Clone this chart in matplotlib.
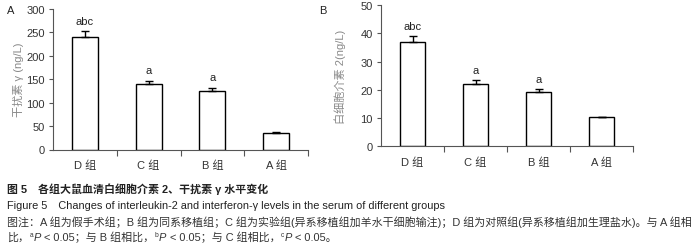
import matplotlib
matplotlib.use("Agg")
import matplotlib.pyplot as plt
from matplotlib.text import Annotation

plt.rcParams['font.family'] = ['Liberation Sans', 'Noto Sans CJK SC', 'DejaVu Sans']

groups = ['D 组', 'C 组', 'B 组', 'A 组']
ifn_means = [239, 140, 124, 35]
ifn_err = [13, 6, 7, 2]
il2_means = [37.0, 21.9, 19.1, 10.2]
il2_err = [2.0, 1.4, 1.0, 0.3]
sig = ['abc', 'a', 'a', '']

fig = plt.figure(figsize=(7.0, 2.51), dpi=100)
axA = fig.add_axes([53/700, 1-150.5/251, 255/700, 141/251])
axB = fig.add_axes([381/700, 1-147.3/251, 252/700, 141.3/251])

FS = 8
def panel(ax, means, err, ymax, step, ylabel, labx):
    x = list(range(len(means)))
    ax.bar(x, means, width=0.41, color='white', edgecolor='black', linewidth=1.0, zorder=2)
    ax.errorbar(x, means, yerr=[[0]*len(err), err], fmt='none', ecolor='black',
                elinewidth=1.0, capsize=3, capthick=1.0, zorder=3)
    for xi, m, e, s in zip(x, means, err, sig):
        if s:
            ax.annotate(s, (xi, m + e), xytext=(0, 4), textcoords='offset points',
                        ha='center', va='bottom', fontsize=FS, color='#222222')
    ax.set_xlim(-0.5, 3.5)
    ax.set_ylim(0, ymax)
    ax.set_yticks(range(0, ymax + 1, step))
    ax.set_xticks([0.5, 1.5, 2.5, 3.5])
    ax.set_xticklabels([])
    ax.tick_params(axis='x', length=4, width=0.8, color='#555555', direction='out')
    ax.tick_params(axis='y', length=3, width=0.8, color='#555555', labelsize=FS, labelcolor='#333333', pad=3)
    for xi, g in zip(x, groups):
        ax.text(xi, -0.11, g, transform=ax.get_xaxis_transform(), ha='center', va='center',
                fontsize=FS, color='#333333')
    for sp in ['top', 'right']:
        ax.spines[sp].set_visible(False)
    for sp in ['left', 'bottom']:
        ax.spines[sp].set_color('#555555')
        ax.spines[sp].set_linewidth(0.8)
    ax.set_ylabel(ylabel, fontsize=FS, color='#888888')
    ax.yaxis.set_label_coords(labx, 0.5)

panel(axA, ifn_means, ifn_err, 300, 50, '干扰素 γ (ng/L)', -0.114)
panel(axB, il2_means, il2_err, 50, 10, '白细胞介素 2(ng/L)', -0.139)

fig.text(7/700, 1-11/251, 'A', fontsize=FS, ha='left', va='center', color='#222222')
fig.text(319/700, 1-11/251, 'B', fontsize=FS, ha='left', va='center', color='#222222')

CF = 7.9
fig.text(7/700, 1-189/251, '图 5　各组大鼠血清白细胞介素 2、干扰素 γ 水平变化', fontsize=CF,
         fontweight='bold', ha='left', va='center', color='#222222')
fig.text(7/700, 1-206/251, 'Figure 5　Changes of interleukin-2 and interferon-γ levels in the serum of different groups',
         fontsize=CF, ha='left', va='center', color='#222222')
fig.text(7/700, 1-222/251, '图注：A 组为假手术组；B 组为同系移植组；C 组为实验组(异系移植组加羊水干细胞输注)；D 组为对照组(异系移植组加生理盐水)。与 A 组相',
         fontsize=CF, ha='left', va='center', color='#333333')

pieces = [('比，', 0, 'normal', CF),
          ('a', 3, 'normal', CF*0.6), ('P', 0, 'italic', CF), (' < 0.05；与 B 组相比，', 0, 'normal', CF),
          ('b', 3, 'normal', CF*0.6), ('P', 0, 'italic', CF), (' < 0.05；与 C 组相比，', 0, 'normal', CF),
          ('c', 3, 'normal', CF*0.6), ('P', 0, 'italic', CF), (' < 0.05。', 0, 'normal', CF)]
prev = None
prev_dy = 0
for txt, dy, style, fs in pieces:
    if prev is None:
        t = fig.text(7/700, 1-241/251, txt, fontsize=fs, ha='left', va='baseline', color='#333333')
    else:
        t = Annotation(txt, xy=(1, 0), xycoords=prev, xytext=(0.3, dy - prev_dy),
                       textcoords='offset points', fontsize=fs, style=style,
                       ha='left', va='bottom', color='#333333')
        fig.add_artist(t)
    prev = t
    prev_dy = dy

fig.savefig('out.png', dpi=100)
